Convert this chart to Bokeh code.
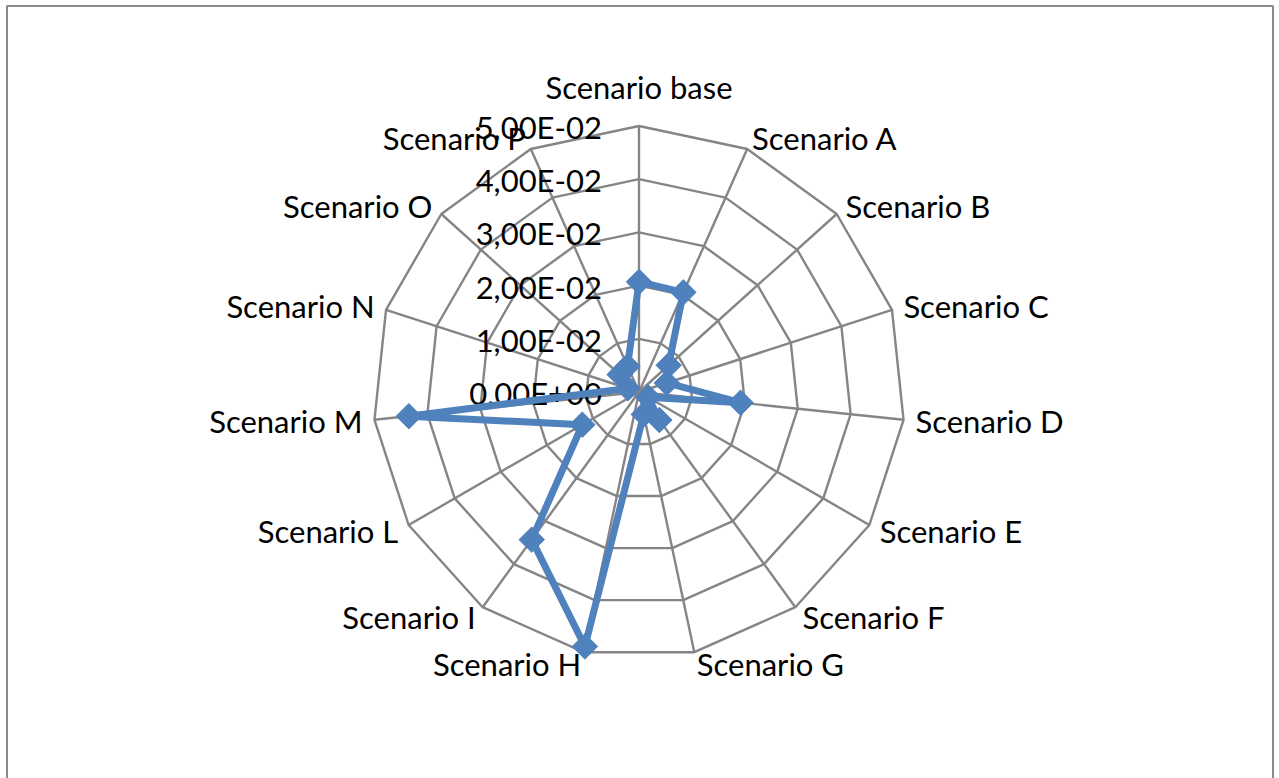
import math

from bokeh.core.properties import value
from bokeh.embed import file_html
from bokeh.models import ColumnDataSource, Range1d
from bokeh.plotting import figure
from bokeh.resources import INLINE

# ---- data -----------------------------------------------------------------
categories = [
    "Scenario base", "Scenario A", "Scenario B", "Scenario C", "Scenario D",
    "Scenario E", "Scenario F", "Scenario G", "Scenario H", "Scenario I",
    "Scenario L", "Scenario M", "Scenario N", "Scenario O", "Scenario P",
]
values = [
    0.0207, 0.0205, 0.0075, 0.0055, 0.0192,
    0.0020, 0.0065, 0.0043, 0.0489, 0.0343,
    0.0123, 0.0435, 0.0022, 0.0049, 0.0053,
]
ring_levels = [0.00, 0.01, 0.02, 0.03, 0.04, 0.05]
ring_labels = ["0,00E+00", "1,00E-02", "2,00E-02", "3,00E-02", "4,00E-02", "5,00E-02"]

# ---- layout ---------------------------------------------------------------
W, H = 1279, 778
CX, CY = 638.5, 391.5          # centre of the radar, in pixels from top-left
R_PX = 266.0                   # pixel radius of the outer ring
RMAX = ring_levels[-1]
K = R_PX / RMAX                # pixels per data unit

FONT = value("Lato")
FONT_SIZE = "31px"
GRID_COLOR = "#858585"
SERIES_COLOR = "#4F81BD"

n = len(categories)
angles = [math.pi / 2 - i * 2 * math.pi / n for i in range(n)]
cos_a = [math.cos(a) for a in angles]
sin_a = [math.sin(a) for a in angles]

p = figure(
    width=W, height=H,
    x_range=Range1d(-CX / K, (W - CX) / K),
    y_range=Range1d(-(H - CY) / K, CY / K),
    x_axis_location=None, y_axis_location=None,
    output_backend="svg", toolbar_location=None,
    min_border=0,
)
p.grid.visible = False
p.outline_line_color = None
p.background_fill_color = "white"
p.border_fill_color = "white"

# chart-area frame (open at the bottom edge of the page)
fx = [(6.5 - CX) / K, (6.5 - CX) / K, (1272.5 - CX) / K, (1272.5 - CX) / K]
fy = [(CY - H - 5) / K, (CY - 5.5) / K, (CY - 5.5) / K, (CY - H - 5) / K]
p.line(fx, fy, line_color="#898989", line_width=2)

# spokes
p.segment(
    x0=[0] * n, y0=[0] * n,
    x1=[RMAX * c for c in cos_a], y1=[RMAX * s for s in sin_a],
    line_color=GRID_COLOR, line_width=2.4,
)

# polygonal rings
ring_xs, ring_ys = [], []
for lvl in ring_levels[1:]:
    ring_xs.append([lvl * c for c in cos_a] + [lvl * cos_a[0]])
    ring_ys.append([lvl * s for s in sin_a] + [lvl * sin_a[0]])
p.multi_line(ring_xs, ring_ys, line_color=GRID_COLOR, line_width=2.4)

# radial value labels, along the vertical spoke
p.text(
    x=[0] * len(ring_levels),
    y=[lvl - 1 / K for lvl in ring_levels],
    text=ring_labels,
    x_offset=-37,
    text_align="right", text_baseline="middle",
    text_font=FONT, text_font_size=FONT_SIZE, text_color="black",
)

# category labels outside the outer ring
lab_x, lab_y, lab_align, lab_base = [], [], [], []
for i in range(n):
    c, s = cos_a[i], sin_a[i]
    if i == 0:
        r = RMAX + 20 / K
        align, base = "center", "bottom"
    else:
        r = RMAX + 12 / K
        align = "left" if c > 0 else "right"
        base = "middle"
    lab_x.append(r * c)
    lab_y.append(r * s)
    lab_align.append(align)
    lab_base.append(base)

label_src = ColumnDataSource(dict(
    x=lab_x, y=lab_y, text=categories, align=lab_align, base=lab_base,
))
p.text(
    x="x", y="y", text="text", source=label_src,
    text_align="align", text_baseline="base",
    text_font=FONT, text_font_size=FONT_SIZE, text_color="black",
)

# data series
sx = [v * c for v, c in zip(values, cos_a)]
sy = [v * s for v, s in zip(values, sin_a)]
p.line(sx + [sx[0]], sy + [sy[0]], line_color=SERIES_COLOR, line_width=7,
       line_join="round")
p.scatter(sx, sy, marker="square", size=18, angle=math.pi / 4,
          fill_color=SERIES_COLOR, line_color=SERIES_COLOR)

open("out.html", "w").write(file_html(p, INLINE))
